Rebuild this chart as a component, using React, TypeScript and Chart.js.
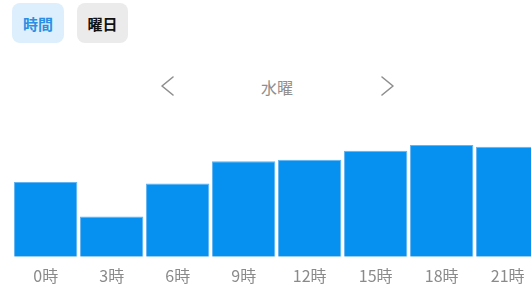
import React, { useEffect, useRef } from "react";
import { Chart, registerables } from "chart.js";

Chart.register(...registerables);

const hourLabels = ["0時", "3時", "6時", "9時", "12時", "15時", "18時", "21時"];
const busyValues = [61.4, 33.1, 60.1, 78.5, 79.6, 87.0, 91.7, 90.3];
const yMax = 100;
const tabLabels = ["時間", "曜日"];
const dayLabel = "水曜";

const FONT = '"Noto Sans CJK JP", "Noto Sans", sans-serif';

export default function App() {
  const canvasRef = useRef<HTMLCanvasElement | null>(null);

  useEffect(() => {
    const canvas = canvasRef.current;
    if (!canvas) return;
    const chart = new Chart(canvas, {
      type: "bar",
      data: {
        labels: hourLabels,
        datasets: [
          {
            data: busyValues,
            backgroundColor: "#0690ef",
            borderColor: "#62b4f3",
            borderWidth: 1,
            categoryPercentage: 1,
            barPercentage: 0.96,
          },
        ],
      },
      options: {
        animation: false,
        responsive: false,
        devicePixelRatio: 1,
        layout: { padding: { left: 12.7, right: 4.3, top: 5, bottom: 0 } },
        plugins: { legend: { display: false }, tooltip: { enabled: false } },
        scales: {
          x: {
            grid: { display: false, drawTicks: false },
            border: { display: false },
            ticks: {
              color: "#8a8a8a",
              padding: 10,
              font: { family: FONT, size: 16 },
              maxRotation: 0,
              autoSkip: false,
            },
          },
          y: { display: false, min: 0, max: yMax },
        },
      },
    });
    return () => chart.destroy();
  }, []);

  const chevron = (pts: string) => (
    <svg width="531" height="285" style={{ position: "absolute", left: 0, top: 0, pointerEvents: "none" }}>
      <polyline points={pts} fill="none" stroke="#8e8e8e" strokeWidth={1.6} strokeLinecap="round" strokeLinejoin="round" />
    </svg>
  );

  return (
    <div
      style={{
        position: "absolute",
        left: 0,
        top: 0,
        width: 531,
        height: 285,
        overflow: "hidden",
        background: "#ffffff",
        fontFamily: FONT,
      }}
    >
      <div
        style={{
          position: "absolute",
          left: 12,
          top: 3,
          width: 52,
          height: 40,
          borderRadius: 8,
          background: "#ddeffc",
          color: "#2a8fe3",
          fontWeight: 700,
          fontSize: 15,
          display: "flex",
          alignItems: "center",
          justifyContent: "center",
        }}
      >
        {tabLabels[0]}
      </div>
      <div
        style={{
          position: "absolute",
          left: 77,
          top: 3,
          width: 51,
          height: 40,
          borderRadius: 8,
          background: "#ebebeb",
          color: "#111111",
          fontWeight: 700,
          fontSize: 15,
          display: "flex",
          alignItems: "center",
          justifyContent: "center",
        }}
      >
        {tabLabels[1]}
      </div>
      {chevron("173,77 162,86 173,95")}
      {chevron("382,77 393,86 382,95")}
      <div
        style={{
          position: "absolute",
          left: 177,
          width: 200,
          top: 76,
          height: 22,
          lineHeight: "22px",
          textAlign: "center",
          color: "#8e8e8e",
          fontSize: 16,
        }}
      >
        {dayLabel}
      </div>
      <canvas
        ref={canvasRef}
        width={545}
        height={166}
        style={{ position: "absolute", left: 0, top: 130, width: 545, height: 166 }}
      />
    </div>
  );
}
